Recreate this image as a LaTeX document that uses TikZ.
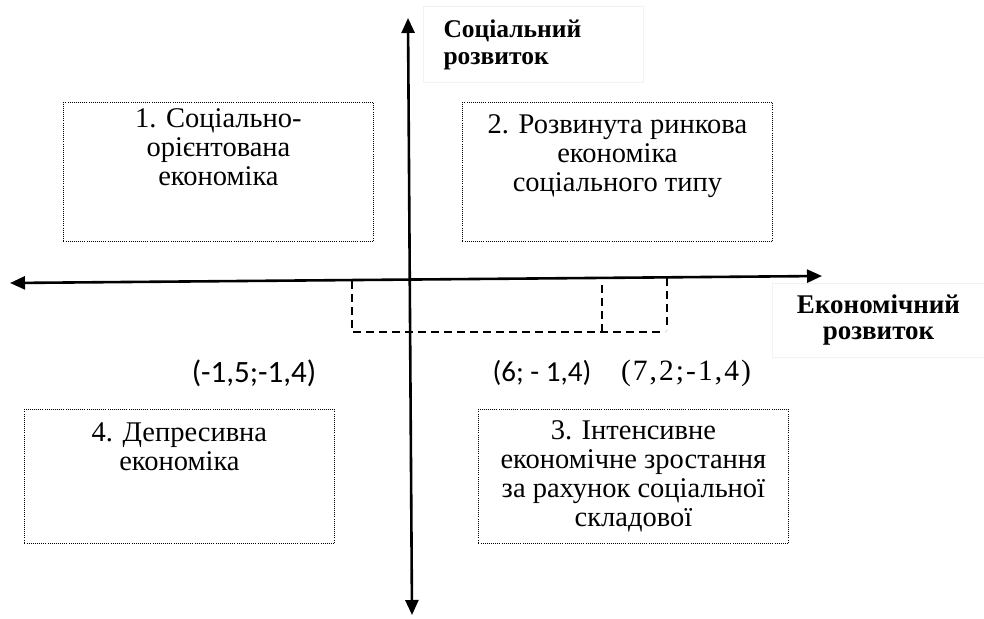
\documentclass[tikz,border=0pt]{standalone}
\usepackage{fontspec}
\setmainfont{Liberation Serif}
\newfontfamily\calibri{Carlito}
\newfontfamily\spacedserif[LetterSpace=7]{Liberation Serif}
\usetikzlibrary{arrows.meta}
\tikzset{
  axisline/.style={line width=2.6pt, {Triangle[length=15pt,width=13pt]}-{Triangle[length=15pt,width=13pt]}},
  quad/.style={draw, line width=0.9pt, dash pattern=on 1pt off 1.1pt, inner sep=0pt, anchor=north west},
  guide/.style={line width=1.3pt, dash pattern=on 8pt off 5pt},
  axislabel/.style={draw=black!5, line width=1pt, inner ysep=0pt},
  coordlabel/.style={inner sep=0pt},
}
\newcommand{\quadtext}[3]{\parbox[c][#1][t]{310pt}{\centering\fontsize{28.5}{29}\selectfont\vspace*{#2}#3\par}}
\begin{document}
\begin{tikzpicture}[x=1pt,y=-1pt]
\useasboundingbox (0,0) rectangle (984,618);
% axes
\coordinate (ytop) at (408,18);
\coordinate (ybot) at (412,615);
\coordinate (xleft) at (10,283);
\coordinate (xright) at (822,276);
\draw[axisline] (xleft) -- (xright);
\draw[axisline] (ybot) -- (ytop);
% dashed guide
\coordinate (g1) at (352,281);
\coordinate (g2) at (352,332);
\coordinate (g3) at (665,332);
\coordinate (g4) at (602,285);
\coordinate (g5) at (602,332);
\coordinate (g6) at (667,278);
\coordinate (g7) at (667,330);
\draw[guide] (g1) -- (g2) -- (g3);
\draw[guide] (g4) -- (g5);
\draw[guide] (g6) -- (g7);
% quadrants
\node[quad] (q1) at (63,102) {\quadtext{139pt}{6pt}{1. Соціально-\\орієнтована\\економіка}};
\node[quad] (q2) at (462,102) {\quadtext{139pt}{12pt}{2. Розвинута ринкова\\економіка\\соціального типу}};
\node[quad] (q4) at (24,409) {\quadtext{134pt}{13pt}{4. Депресивна\\економіка}};
\node[quad] (q3) at (478,409) {\quadtext{134pt}{11pt}{3. Інтенсивне\\економічне зростання\\за рахунок соціальної\\складової}};
% axis labels
\node[axislabel, anchor=north west, minimum width=220pt, minimum height=76pt, text width=180pt, inner xsep=20pt, align=left, font=\fontsize{25.5}{27}\selectfont\bfseries] (soc) at (423,6) {Соціальний\\розвиток};
\node[axislabel, anchor=north west, minimum width=212pt, minimum height=74pt, align=center, font=\fontsize{27}{26}\selectfont\bfseries] (eco) at (772,283) {Економічний\\розвиток};
% coordinates
\node[coordlabel, font=\fontsize{31}{32}\selectfont\calibri] (c1) at (254,373) {(-1,5;-1,4)};
\node[coordlabel, font=\fontsize{29}{32}\selectfont\calibri] (c2) at (542,373) {(6; - 1,4)};
\node[coordlabel, font=\fontsize{29.5}{32}\selectfont\spacedserif] (c3) at (686,373) {(7,2;-1,4)};
\end{tikzpicture}
\end{document}
